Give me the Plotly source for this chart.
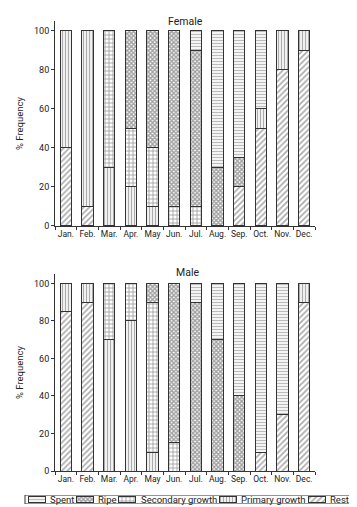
import plotly.graph_objects as go

months = ["Jan.", "Feb.", "Mar.", "Apr.", "May", "Jun.", "Jul.", "Aug.", "Sep.", "Oct.", "Nov.", "Dec."]
stages = ["Rest", "Primary growth", "Secondary growth", "Ripe", "Spent"]

female_rest      = [40, 10, 0, 0, 0, 0, 0, 0, 20, 50, 80, 90]
female_primary   = [60, 90, 30, 20, 10, 0, 0, 0, 0, 10, 20, 10]
female_secondary = [0, 0, 70, 30, 30, 10, 10, 0, 0, 0, 0, 0]
female_ripe      = [0, 0, 0, 50, 60, 90, 80, 30, 15, 0, 0, 0]
female_spent     = [0, 0, 0, 0, 0, 0, 10, 70, 65, 40, 0, 0]

male_rest      = [85, 90, 0, 0, 0, 0, 0, 0, 0, 10, 30, 90]
male_primary   = [15, 10, 70, 80, 10, 0, 0, 0, 0, 0, 0, 10]
male_secondary = [0, 0, 30, 20, 80, 15, 0, 0, 0, 0, 0, 0]
male_ripe      = [0, 0, 0, 0, 10, 85, 90, 70, 40, 0, 0, 0]
male_spent     = [0, 0, 0, 0, 0, 0, 10, 30, 60, 90, 70, 0]

female = [female_rest, female_primary, female_secondary, female_ripe, female_spent]
male = [male_rest, male_primary, male_secondary, male_ripe, male_spent]

# legend order as printed in the key
legend_labels = ["Spent", "Ripe", "Secondary growth", "Primary growth", "Rest"]

patterns = {
    "Rest": dict(shape="/", size=4, solidity=0.4, fgcolor="#555"),
    "Primary growth": dict(shape="|", size=3, solidity=0.45, fgcolor="#555"),
    "Secondary growth": dict(shape="+", size=4, solidity=0.4, fgcolor="#444"),
    "Ripe": dict(shape="x", size=3, solidity=0.7, fgcolor="#444"),
    "Spent": dict(shape="-", size=3, solidity=0.45, fgcolor="#777"),
}

FONT = "Roboto, sans-serif"
TXT = "#222"
LINE = "#333"

fig = go.Figure()

for xa, ya, data in (("x", "y", female), ("x2", "y2", male)):
    for name, vals in zip(stages, data):
        p = dict(patterns[name])
        p["bgcolor"] = "white"
        fig.add_trace(go.Bar(
            x=months, y=[v if v else None for v in vals], name=name,
            xaxis=xa, yaxis=ya, showlegend=False,
            marker=dict(color="white", line=dict(color=LINE, width=1), pattern=p),
        ))

# key (legend) drawn on its own small axis (x units = pixels across the key)
key_centers = [28.5, 76.5, 119, 219.5, 308.5]
key_width = 17
key_text_x = [40, 88, 130.5, 231, 320]
for name, c in zip(legend_labels, key_centers):
    p = dict(patterns[name])
    p["bgcolor"] = "white"
    fig.add_trace(go.Bar(
        x=[c], y=[0.56], base=[0.22], width=[key_width], xaxis="x3", yaxis="y3",
        showlegend=False, hoverinfo="skip",
        marker=dict(color="white", line=dict(color=LINE, width=1), pattern=p),
    ))

annotations = [
    dict(text="Female", xref="paper", yref="paper", x=0.489, y=0.998, yanchor="middle",
         showarrow=False, font=dict(family=FONT, size=10.5, color=TXT)),
    dict(text="Male", xref="paper", yref="paper", x=0.495, y=0.480, yanchor="middle",
         showarrow=False, font=dict(family=FONT, size=10.5, color=TXT)),
]
for name, tx in zip(legend_labels, key_text_x):
    annotations.append(dict(text=name, xref="x3", yref="y3", x=tx, y=0.5, xanchor="left",
                            yanchor="middle", showarrow=False,
                            font=dict(family=FONT, size=9.5, color=TXT)))

xfont = dict(family=FONT, size=8.5, color=TXT)
yfont = dict(family=FONT, size=9, color=TXT)
xcommon = dict(range=[-0.5, 11.5], showline=True, linecolor=LINE, linewidth=1,
               ticks="outside", tickson="boundaries", ticklen=3, tickcolor=LINE,
               showgrid=False, tickfont=xfont, tickangle=0, domain=[0.0937, 0.8792],
               fixedrange=True, automargin=False)
ycommon = dict(range=[0, 105], showline=True, linecolor=LINE, linewidth=1,
               ticks="outside", ticklen=3, tickcolor=LINE, tickvals=[0, 20, 40, 60, 80, 100],
               showgrid=False, zeroline=False, tickfont=yfont, automargin=False,
               title=dict(text="% Frequency", font=dict(family=FONT, size=9.5, color=TXT), standoff=8))

fig.update_layout(
    barmode="stack", bargap=0.48,
    width=357, height=507,
    margin=dict(l=16, r=10, t=13, b=11, autoexpand=False),
    plot_bgcolor="white", paper_bgcolor="white",
    font=dict(family=FONT, size=10, color=TXT),
    xaxis=dict(xcommon, anchor="y"),
    yaxis=dict(ycommon, domain=[0.5756, 1.0], anchor="x"),
    xaxis2=dict(xcommon, anchor="y2"),
    yaxis2=dict(ycommon, domain=[0.0683, 0.4762], anchor="x2"),
    xaxis3=dict(domain=[0, 1], range=[16, 347], visible=False, anchor="y3", fixedrange=True, automargin=False),
    yaxis3=dict(domain=[0, 0.0186], range=[0, 1], visible=False, anchor="x3", fixedrange=True, automargin=False),
    annotations=annotations,
    shapes=[dict(type="rect", xref="x3", yref="y3", x0=17, x1=344, y0=0, y1=1,
                 line=dict(color=LINE, width=1))],
    showlegend=False,
)

fig.write_html("out.html")
